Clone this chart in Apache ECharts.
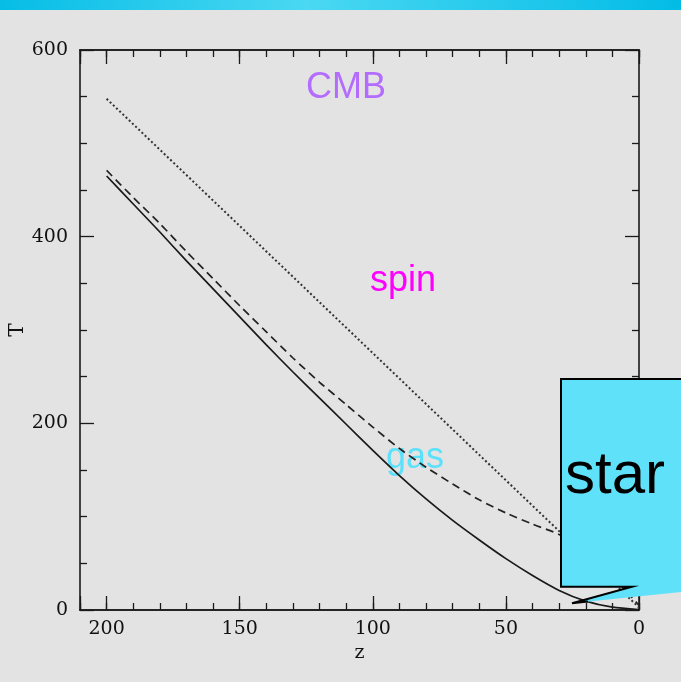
<!DOCTYPE html>
<html>
<head>
<meta charset="utf-8">
<script src="https://cdn.jsdelivr.net/npm/echarts@6/dist/echarts.min.js"></script>
<style>
  html, body { margin: 0; padding: 0; background: #e3e3e3; }
  #chart { width: 681px; height: 682px; }
</style>
</head>
<body>
<div id="chart"></div>
<script>
// Redshift samples (z), shared by all three temperature curves
const redshift = [200, 190, 180, 170, 160, 150, 140, 130, 120, 110, 100, 90, 80, 70, 60, 50, 40, 30, 20, 10, 0];
// CMB temperature (dotted)
const cmbTemp = [547.7, 520.5, 493.2, 466.0, 438.7, 411.5, 384.2, 357.0, 329.7, 302.5, 275.2, 248.0, 220.7, 193.5, 166.2, 139.0, 111.7, 84.5, 57.2, 30.0, 2.7];
// Spin temperature (dashed)
const spinTemp = [471, 442, 414, 384, 355, 326, 298, 270, 244, 220, 196, 173, 153, 135, 118, 104, 92, 81, 64, 36, 5];
// Gas kinetic temperature (solid)
const gasTemp = [465, 435, 405, 374, 344, 314, 284, 255, 227, 199, 171, 144, 119, 96, 75, 55, 37, 21, 9.5, 3, 0.5];

// Axis settings
const zMin = 0, zMax = 210, zMajor = 50, zMinor = 10;
const tMin = 0, tMax = 600, tMajor = 200, tMinor = 50;

const toPairs = (ys) => redshift.map((z, i) => [z, ys[i]]);

const frameColor = '#1a1a1a';
const labelFont = { fontFamily: 'DejaVu Serif', fontSize: 19, color: '#111' };

function xAxisDef(position, interval, tickLen, showLabels, extra) {
  return Object.assign({
    type: 'value', position, min: zMin, max: zMax, interval, inverse: true,
    axisLine: { show: true, onZero: false, lineStyle: { color: frameColor, width: 1.6 } },
    axisTick: { show: true, inside: true, length: tickLen, lineStyle: { color: frameColor, width: 1.3 } },
    axisLabel: showLabels ? Object.assign({
      show: true, margin: 10,
      formatter: (v) => (v % zMajor === 0 ? String(v) : '')
    }, labelFont) : { show: false },
    splitLine: { show: false }
  }, extra || {});
}

function yAxisDef(position, showLabels, extra) {
  return Object.assign({
    type: 'value', position, min: tMin, max: tMax, interval: tMajor,
    axisLine: { show: true, onZero: false, lineStyle: { color: frameColor, width: 1.6 } },
    axisTick: { show: true, inside: true, length: 14, lineStyle: { color: frameColor, width: 1.3 } },
    minorTick: { show: true, splitNumber: tMajor / tMinor, length: 7, lineStyle: { color: frameColor, width: 1.3 } },
    axisLabel: showLabels ? Object.assign({ show: true, margin: 12 }, labelFont) : { show: false },
    splitLine: { show: false }
  }, extra || {});
}

const chart = echarts.init(document.getElementById('chart'), null, { renderer: 'canvas' });

const option = {
  backgroundColor: '#e3e3e3',
  animation: false,
  grid: { left: 80, right: 42, top: 50, bottom: 72, containLabel: false, outerBoundsMode: 'none' },
  xAxis: [
    xAxisDef('bottom', zMinor, 7, false),
    xAxisDef('bottom', zMajor, 14, true, {
      name: 'z', nameLocation: 'middle', nameGap: 31,
      nameTextStyle: { fontFamily: 'DejaVu Serif', fontSize: 19, color: '#111' }
    }),
    xAxisDef('top', zMinor, 7, false),
    xAxisDef('top', zMajor, 14, false)
  ],
  yAxis: [
    yAxisDef('left', true, {
      name: 'T', nameLocation: 'middle', nameGap: 52, nameRotate: 90, nameMoveOverlap: false,
      nameTextStyle: { fontFamily: 'DejaVu Serif', fontSize: 20, color: '#111' }
    }),
    yAxisDef('right', false)
  ],
  series: [
    {
      name: 'CMB', type: 'line', xAxisIndex: 0, yAxisIndex: 0,
      data: toPairs(cmbTemp), showSymbol: false, smooth: false,
      lineStyle: { color: '#333', width: 2, type: [2, 2.4], cap: 'butt' }
    },
    {
      name: 'spin', type: 'line', xAxisIndex: 0, yAxisIndex: 0,
      data: toPairs(spinTemp), showSymbol: false, smooth: 0.25,
      lineStyle: { color: '#222', width: 1.7, type: [8, 5] }
    },
    {
      name: 'gas', type: 'line', xAxisIndex: 0, yAxisIndex: 0,
      data: toPairs(gasTemp), showSymbol: false, smooth: 0.25,
      lineStyle: { color: '#1a1a1a', width: 1.7, type: 'solid' }
    }
  ],
  graphic: [
    // header band
    {
      type: 'rect', left: 0, top: 0, z: 50,
      shape: { width: 681, height: 10 },
      style: {
        fill: new echarts.graphic.LinearGradient(0, 0, 1, 0, [
          { offset: 0, color: '#06bde6' },
          { offset: 0.45, color: '#4ad8f2' },
          { offset: 1, color: '#02bce6' }
        ])
      }
    },
    // curve labels
    {
      type: 'text', x: 346, y: 88, z: 1,
      style: { text: 'CMB', fill: '#b46cff', font: '36px "Liberation Sans"', align: 'center', verticalAlign: 'middle' }
    },
    {
      type: 'text', x: 403, y: 281, z: 1,
      style: { text: 'spin', fill: '#ff00ff', font: '36px "Liberation Sans"', align: 'center', verticalAlign: 'middle' }
    },
    {
      type: 'text', x: 415, y: 458, z: 1,
      style: { text: 'gas', fill: '#5ce1fa', font: '36px "Liberation Sans"', align: 'center', verticalAlign: 'middle' }
    },
    // "star" callout box
    {
      type: 'polygon', z: 100,
      shape: { points: [[561, 379], [690, 379], [690, 591], [572, 603.3], [632, 586.7], [561, 586.7]] },
      style: { fill: '#5fe2f9', stroke: null }
    },
    {
      type: 'polyline', z: 101,
      shape: { points: [[690, 379], [561, 379], [561, 586.7], [632, 586.7], [572, 603.3], [588, 601.6]] },
      style: { fill: null, stroke: '#000', lineWidth: 2 }
    },
    {
      type: 'text', x: 615, y: 476, z: 102,
      style: { text: 'star', fill: '#000', font: '60px "Liberation Sans"', align: 'center', verticalAlign: 'middle' }
    }
  ]
};

chart.setOption(option);
</script>
</body>
</html>
